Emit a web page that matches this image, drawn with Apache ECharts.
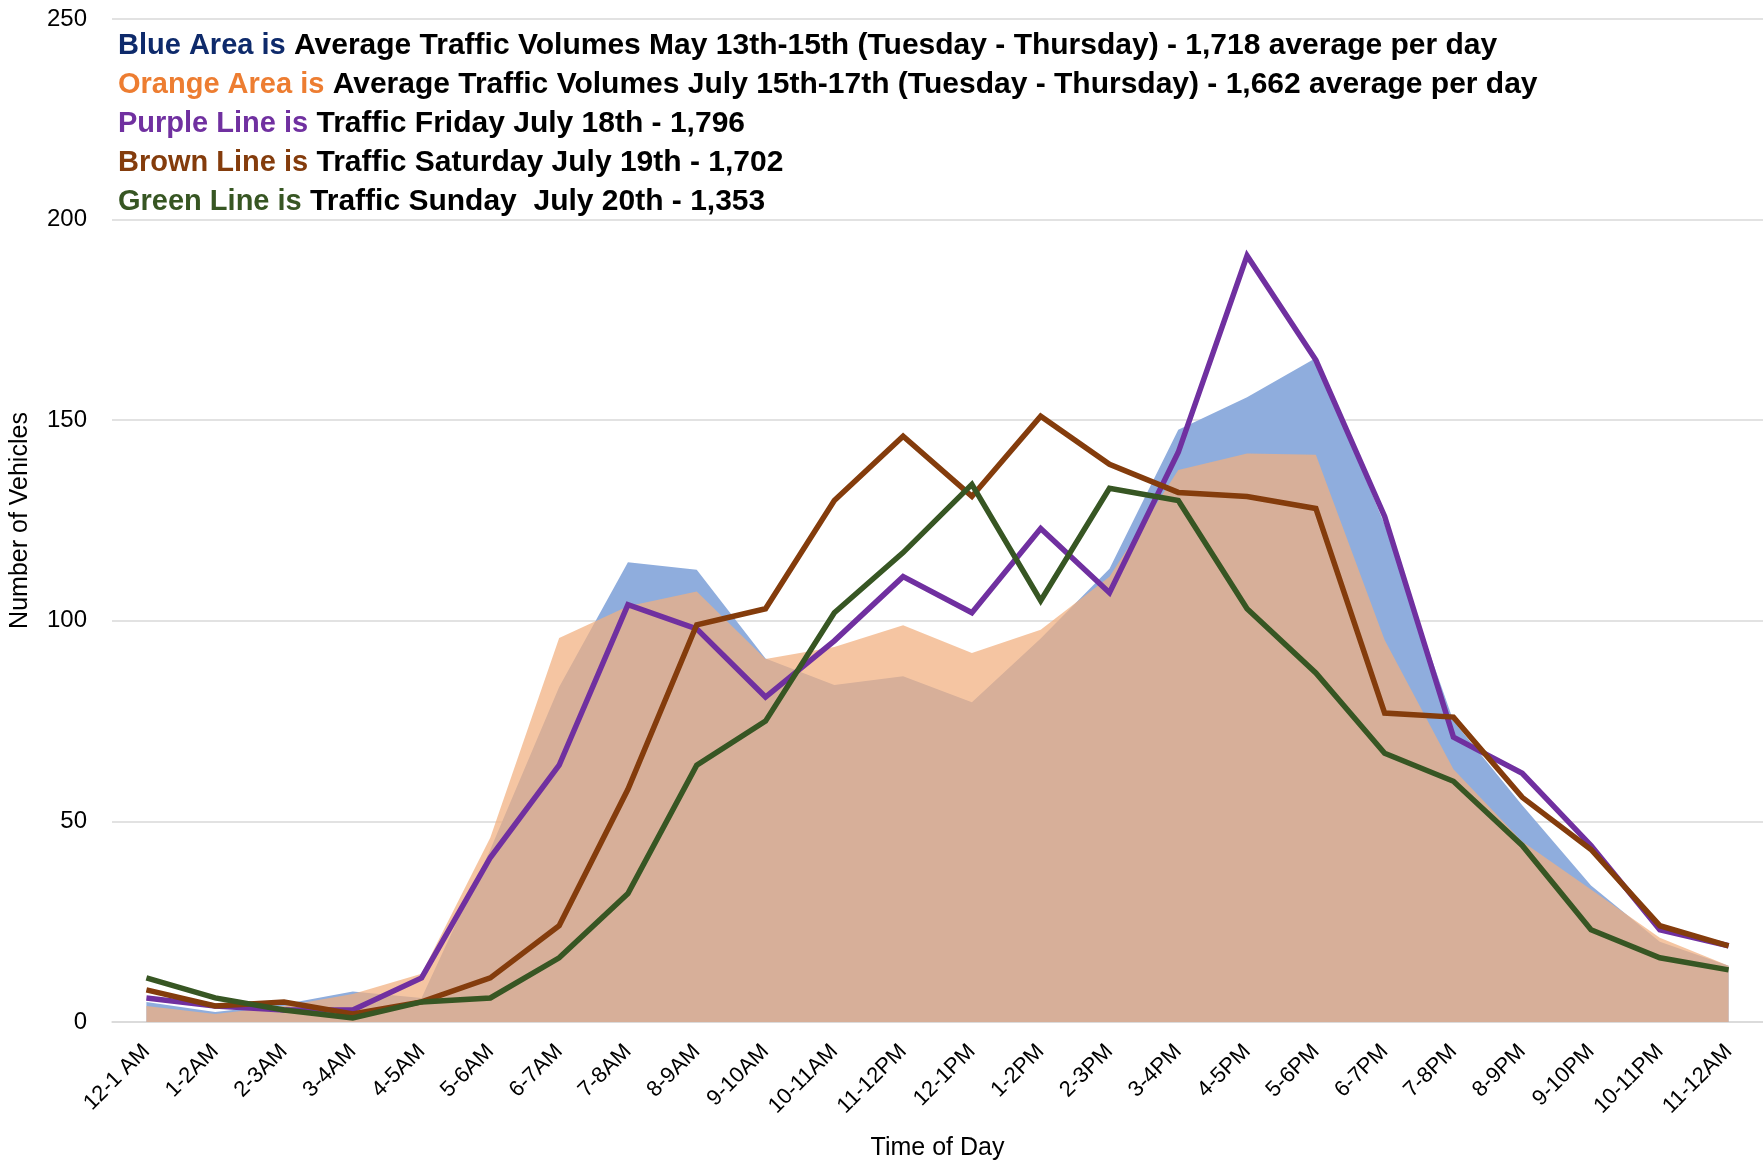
<!DOCTYPE html>
<html>
<head>
	<meta charset="utf-8">
	<title>Traffic by Hour</title>
	<script src="https://cdn.jsdelivr.net/npm/echarts@6/dist/echarts.min.js"></script>
	<style>
		html, body { margin: 0; padding: 0; background: #ffffff; }
		#chart { width: 1763px; height: 1165px; }
	</style>
</head>
<body>
<div id="chart"></div>
<script type="text/javascript">
	// hour buckets along the bottom
	var hours = ['12-1 AM', '1-2AM', '2-3AM', '3-4AM', '4-5AM', '5-6AM', '6-7AM', '7-8AM', '8-9AM',
		'9-10AM', '10-11AM', '11-12PM', '12-1PM', '1-2PM', '2-3PM', '3-4PM', '4-5PM', '5-6PM',
		'6-7PM', '7-8PM', '8-9PM', '9-10PM', '10-11PM', '11-12AM'];

	// blue area - May 13th-15th average (1,718 / day)
	var mayAvg = [5, 2.5, 4.4, 7.6, 6, 43, 83.5, 114.6, 112.7, 90.6, 84, 86.2, 79.7, 95.6, 113,
		147.6, 155.7, 165.5, 124, 75, 54, 34, 20, 14];

	// orange area - July 15th-17th average (1,662 / day)
	var julyAvg = [4, 2, 4, 7, 12, 46, 95.7, 103.6, 107.3, 90.5, 93.5, 98.9, 92, 97.8, 111,
		137.6, 141.7, 141.4, 95.2, 63, 45, 33, 21, 14];

	// single days
	var friday = [6, 4, 3, 3, 11, 41, 64, 104, 98, 81, 95, 111, 102, 123, 107, 142, 191, 165, 126, 71, 62, 44, 23, 19];
	var saturday = [8, 4, 5, 2, 5, 11, 24, 58, 99, 103, 130, 146, 131, 151, 139, 132, 131, 128, 77, 76, 56, 43, 24, 19];
	var sunday = [11, 6, 3, 1, 5, 6, 16, 32, 64, 75, 102, 117, 134, 105, 133, 130, 103, 87, 67, 60, 44, 23, 16, 13];

	var noteLines = [
		'{blue|Blue Area is} Average Traffic Volumes May 13th-15th (Tuesday - Thursday) - 1,718 average per day',
		'{orange|Orange Area is} Average Traffic Volumes July 15th-17th (Tuesday - Thursday) - 1,662 average per day',
		'{purple|Purple Line is} Traffic Friday July 18th - 1,796',
		'{brown|Brown Line is} Traffic Saturday July 19th - 1,702',
		'{green|Green Line is} Traffic Sunday  July 20th - 1,353'
	];

	var FONT = 'Liberation Sans, Arial, sans-serif';
	var chart = echarts.init(document.getElementById('chart'), null, { renderer: 'canvas' });

	function noteStyle(color)
	{
		return { color: color, fontFamily: FONT, fontSize: 29, fontWeight: 'bold', lineHeight: 39 };
	}

	function lineSeries(name, data, color)
	{
		return {
			name: name,
			type: 'line',
			data: data,
			showSymbol: false,
			symbol: 'none',
			z: 5,
			lineStyle: { color: color, width: 5.5, join: 'miter' },
			emphasis: { disabled: true }
		};
	}

	var option = {
		animation: false,
		backgroundColor: '#ffffff',
		title: {
			left: 118,
			top: 26,
			padding: 0,
			text: noteLines.join('\n'),
			textStyle: {
				color: '#000000',
				fontFamily: FONT,
				fontSize: 30,
				fontWeight: 'bold',
				lineHeight: 39,
				rich: {
					blue: noteStyle('#0E2A6B'),
					orange: noteStyle('#ED7D31'),
					purple: noteStyle('#7030A0'),
					brown: noteStyle('#843C0C'),
					green: noteStyle('#375623')
				}
			}
		},
		grid: { left: 112, right: 0, top: 19, bottom: 143, containLabel: false, outerBoundsMode: 'none' },
		xAxis: {
			type: 'category',
			data: hours,
			boundaryGap: true,
			name: 'Time of Day',
			nameLocation: 'middle',
			nameGap: 114,
			nameTextStyle: { color: '#000000', fontFamily: FONT, fontSize: 25 },
			axisLine: { show: true, lineStyle: { color: '#D9D9D9', width: 1.5 } },
			axisTick: { show: false },
			axisLabel: {
				rotate: 45,
				margin: 26,
				interval: 0,
				color: '#000000',
				fontFamily: FONT,
				fontSize: 22
			}
		},
		yAxis: {
			type: 'value',
			min: 0,
			max: 250,
			interval: 50,
			name: 'Number of Vehicles',
			nameLocation: 'middle',
			nameGap: 79,
			nameTextStyle: { color: '#000000', fontFamily: FONT, fontSize: 25 },
			axisLine: { show: false },
			axisTick: { show: false },
			axisLabel: { margin: 25, color: '#000000', fontFamily: FONT, fontSize: 24 },
			splitLine: { lineStyle: { color: '#D9D9D9', width: 1.5 } }
		},
		series: [
			{
				name: 'May 13-15 average',
				type: 'line',
				data: mayAvg,
				showSymbol: false,
				symbol: 'none',
				z: 2,
				lineStyle: { width: 0 },
				areaStyle: { color: '#8FADDD', opacity: 1 },
				emphasis: { disabled: true }
			},
			{
				name: 'July 15-17 average',
				type: 'line',
				data: julyAvg,
				showSymbol: false,
				symbol: 'none',
				z: 3,
				lineStyle: { width: 0 },
				areaStyle: { color: 'rgb(241,175,127)', opacity: 0.73 },
				emphasis: { disabled: true }
			},
			lineSeries('Friday July 18', friday, '#7030A0'),
			lineSeries('Saturday July 19', saturday, '#843C0C'),
			lineSeries('Sunday July 20', sunday, '#375623')
		]
	};

	chart.setOption(option);
</script>
</body>
</html>
